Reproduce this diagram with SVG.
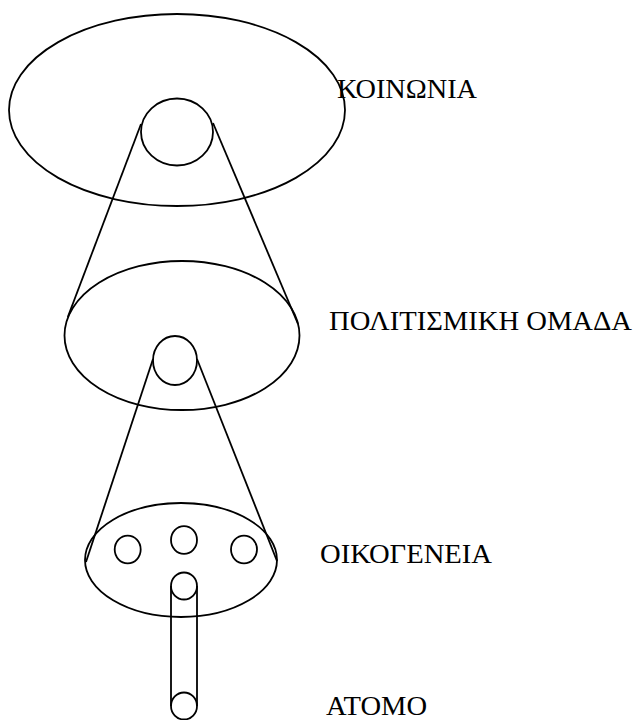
<svg xmlns="http://www.w3.org/2000/svg" width="640" height="720" viewBox="0 0 640 720">
<style>
.s{fill:none;stroke:#000;stroke-width:1.8}
.t{font-family:"Liberation Serif","Times New Roman",serif;font-size:28px;fill:#000}
</style>
<rect width="640" height="720" fill="#fff"/>
<g id="koinonia">
<ellipse class="s" cx="177" cy="110" rx="168" ry="96"/>
<text class="t" x="337" y="98" textLength="140" lengthAdjust="spacingAndGlyphs">ΚΟΙΝΩΝΙΑ</text>
</g>
<g id="koinonia-sub">
<ellipse class="s" cx="177" cy="132" rx="36" ry="33.5"/>
</g>
<g id="politismiki">
<ellipse class="s" cx="182" cy="335.5" rx="117.5" ry="74.5"/>
<text class="t" x="329" y="330" textLength="303" lengthAdjust="spacingAndGlyphs">ΠΟΛΙΤΙΣΜΙΚΗ ΟΜΑΔΑ</text>
</g>
<g id="politismiki-sub">
<ellipse class="s" cx="175" cy="360.5" rx="22" ry="24.5"/>
</g>
<g id="oikogeneia">
<ellipse class="s" cx="181" cy="560" rx="96" ry="57"/>
<ellipse class="s" cx="127.7" cy="549.5" rx="13" ry="13.8"/>
<ellipse class="s" cx="184" cy="540" rx="13" ry="13.8"/>
<ellipse class="s" cx="244" cy="549.5" rx="13" ry="13.8"/>
<text class="t" x="320" y="563" textLength="172" lengthAdjust="spacingAndGlyphs">ΟΙΚΟΓΕΝΕΙΑ</text>
</g>
<g id="atomo">
<ellipse class="s" cx="184" cy="586" rx="13" ry="13.5"/>
<ellipse class="s" cx="184" cy="706" rx="13" ry="13.5"/>
<text class="t" x="326" y="715" textLength="101" lengthAdjust="spacingAndGlyphs">ΑΤΟΜΟ</text>
</g>
<g id="connectors">
<line class="s" x1="141" y1="124" x2="67.8" y2="317"/>
<line class="s" x1="213" y1="123" x2="298" y2="324"/>
<line class="s" x1="153" y1="359" x2="86" y2="562"/>
<line class="s" x1="197" y1="359" x2="277" y2="561"/>
<line class="s" x1="171" y1="586" x2="171" y2="706"/>
<line class="s" x1="197" y1="586" x2="197" y2="706"/>
</g>
</svg>
